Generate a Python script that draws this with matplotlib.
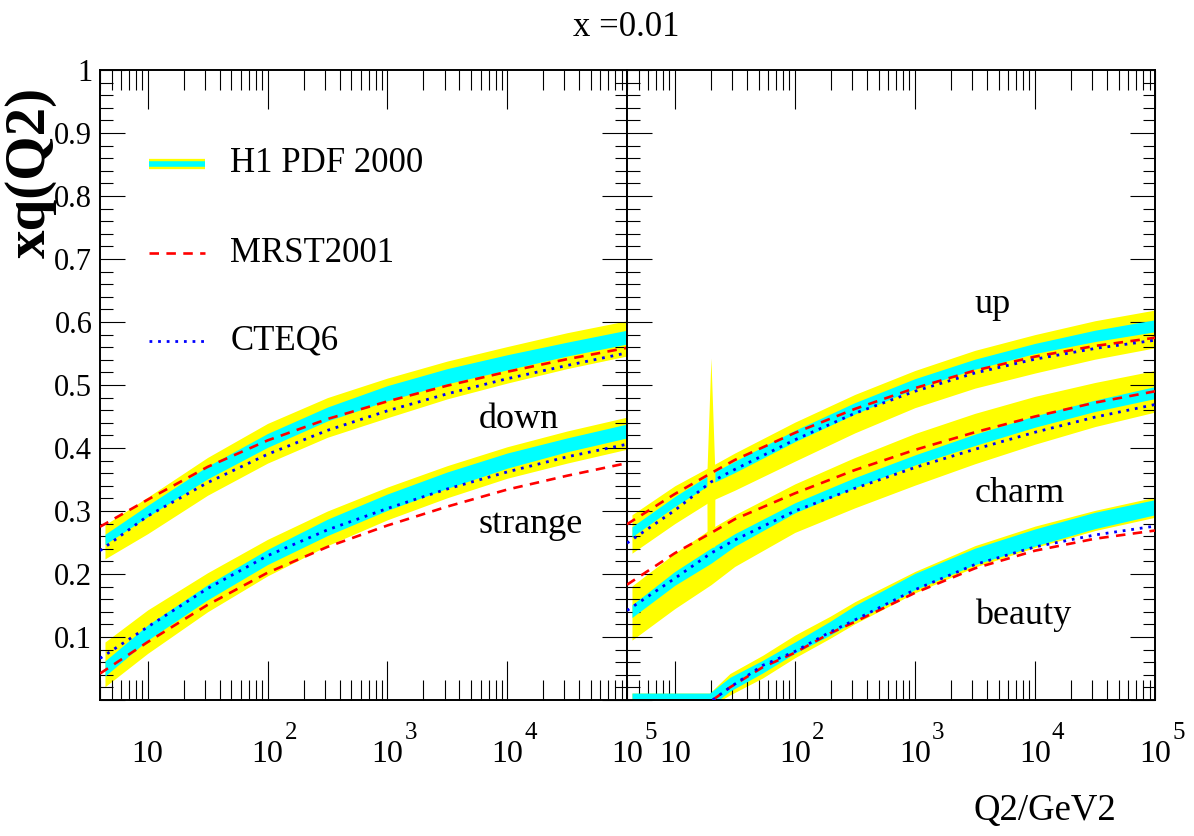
import numpy as np
import matplotlib
matplotlib.use("Agg")
import matplotlib.pyplot as plt
from matplotlib.ticker import (FixedLocator, LogLocator, MultipleLocator,
                               NullFormatter, FuncFormatter)
from matplotlib.transforms import blended_transform_factory, offset_copy

plt.rcParams["font.family"] = ["Liberation Serif", "DejaVu Serif"]

YELLOW = "#ffff00"
CYAN = "#00ffff"
RED = "#ff0000"
BLUE = "#0000ff"

# ---------------- left panel: down / strange ----------------
q2_h1_l = [4.4, 10, 31.6, 100, 316, 1000, 3162, 1e4, 31623, 1e5]
q2_fit_l = [4, 10, 31.6, 100, 316, 1000, 3162, 1e4, 31623, 1e5]

down_h1 = [0.255, 0.300, 0.361, 0.412, 0.454, 0.487, 0.514, 0.536, 0.557, 0.576]
down_exp = [0.008, 0.009, 0.010, 0.011, 0.011, 0.012, 0.012, 0.012, 0.011, 0.011]
down_tot_up = [0.023, 0.022, 0.024, 0.027, 0.026, 0.024, 0.024, 0.025, 0.026, 0.026]
down_tot_dn = [0.031, 0.036, 0.036, 0.036, 0.037, 0.039, 0.036, 0.033, 0.031, 0.030]
down_mrst = [0.275, 0.318, 0.370, 0.412, 0.446, 0.474, 0.499, 0.521, 0.541, 0.559]
down_cteq = [0.237, 0.292, 0.345, 0.390, 0.428, 0.459, 0.486, 0.510, 0.531, 0.551]

strange_h1 = [0.050, 0.107, 0.171, 0.227, 0.274, 0.314, 0.349, 0.380, 0.405, 0.427]
strange_exp = [0.012, 0.012, 0.012, 0.012, 0.013, 0.013, 0.013, 0.012, 0.011, 0.011]
strange_tot_up = [0.042, 0.036, 0.031, 0.028, 0.026, 0.024, 0.023, 0.022, 0.022, 0.022]
strange_tot_dn = [0.029, 0.033, 0.031, 0.030, 0.029, 0.028, 0.028, 0.028, 0.029, 0.029]
strange_mrst = [0.042, 0.092, 0.151, 0.202, 0.243, 0.277, 0.307, 0.334, 0.356, 0.376]
strange_cteq = [0.066, 0.116, 0.177, 0.229, 0.270, 0.304, 0.335, 0.362, 0.386, 0.406]

# ---------------- right panel: up / charm / beauty ----------------
q2_h1_r = [4.4, 10, 20, 31.6, 100, 316, 1000, 3162, 1e4, 31623, 1e5]
q2_fit_r = [4, 10, 20, 31.6, 100, 316, 1000, 3162, 1e4, 31623, 1e5]

up_h1 = [0.267, 0.315, 0.351, 0.370, 0.419, 0.463, 0.502, 0.533, 0.558, 0.578, 0.594]
up_exp = [0.008, 0.008, 0.008, 0.009, 0.009, 0.009, 0.008, 0.008, 0.008, 0.009, 0.0095]
up_tot_up = [0.027, 0.025, 0.020, 0.022, 0.022, 0.022, 0.021, 0.022, 0.022, 0.024, 0.025]
up_tot_dn = [0.034, 0.035, 0.035, 0.037, 0.040, 0.039, 0.038, 0.038, 0.039, 0.037, 0.035]
up_mrst = [0.279, 0.327, 0.360, 0.381, 0.424, 0.462, 0.495, 0.523, 0.545, 0.562, 0.575]
up_cteq = [0.249, 0.301, 0.346, 0.366, 0.413, 0.455, 0.490, 0.519, 0.541, 0.558, 0.571]

# narrow spike of the up-quark error band near Q2 = 20
spike_q2 = [18.5, 18.6, 20.0, 21.5, 21.6]
spike_hi = [0.360, 0.371, 0.543, 0.371, 0.360]
spike_lo = [0.350, 0.243, 0.243, 0.243, 0.350]

charm_h1 = [0.141, 0.193, 0.229, 0.254, 0.305, 0.345, 0.381, 0.413, 0.442, 0.467, 0.488]
charm_exp = [0.010, 0.011, 0.012, 0.010, 0.008, 0.008, 0.008, 0.009, 0.009, 0.009, 0.0095]
charm_tot_up = [0.040, 0.040, 0.043, 0.040, 0.038, 0.040, 0.042, 0.042, 0.040, 0.037, 0.035]
charm_tot_dn = [0.046, 0.048, 0.046, 0.042, 0.039, 0.040, 0.040, 0.038, 0.036, 0.033, 0.031]
charm_mrst = [0.183, 0.233, 0.265, 0.287, 0.328, 0.365, 0.397, 0.425, 0.450, 0.472, 0.490]
charm_cteq = [0.142, 0.193, 0.233, 0.254, 0.300, 0.336, 0.369, 0.398, 0.425, 0.449, 0.469]

q2_h1_b = [4.4, 10, 19.5, 28.8, 54, 100, 197, 316, 1000, 3162, 1e4, 31623, 1e5]
beauty_h1 = [0.0, 0.0, 0.0, 0.025, 0.053, 0.083, 0.114, 0.138, 0.188, 0.228, 0.258, 0.285, 0.306]
beauty_exp = [0.011, 0.011, 0.011, 0.011, 0.010, 0.009, 0.011, 0.012, 0.013, 0.013, 0.0135, 0.013, 0.012]
beauty_tot_up = [0.011, 0.011, 0.011, 0.017, 0.018, 0.020, 0.019, 0.018, 0.016, 0.017, 0.018, 0.016, 0.016]
beauty_tot_dn = [0.011, 0.011, 0.011, 0.017, 0.018, 0.016, 0.016, 0.017, 0.018, 0.017, 0.016, 0.016, 0.016]
q2_fit_b = [20.7, 28.8, 54, 100, 197, 316, 1000, 3162, 1e4, 31623, 1e5]
beauty_mrst = [0.0, 0.020, 0.052, 0.075, 0.106, 0.124, 0.170, 0.209, 0.237, 0.256, 0.269]
beauty_cteq = [0.0, 0.020, 0.055, 0.077, 0.108, 0.127, 0.175, 0.215, 0.243, 0.262, 0.276]

decades = [10, 100, 1e3, 1e4, 1e5]
decade_exp = ["", "2", "3", "4", "5"]
legend_labels = ["H1 PDF 2000", "MRST2001", "CTEQ6"]

MRST_STYLE = dict(color=RED, lw=1.9, ls=(0, (3.6, 2.8)), zorder=4)
CTEQ_STYLE = dict(color=BLUE, lw=2.0, ls=(0, (1.0, 2.1)), zorder=5)


def h1_band(ax, q2, cen, exp, tot_up, tot_dn):
    cen = np.asarray(cen)
    ax.fill_between(q2, cen - np.asarray(tot_dn), cen + np.asarray(tot_up),
                    color=YELLOW, lw=0, zorder=1)
    ax.fill_between(q2, cen - np.asarray(exp), cen + np.asarray(exp),
                    color=CYAN, lw=0, zorder=2)


def style_axes(ax, labels):
    ax.set_xscale("log")
    ax.set_xlim(4, 1e5)
    ax.set_ylim(0, 1)
    ax.xaxis.set_major_locator(FixedLocator(decades))
    ax.xaxis.set_minor_locator(LogLocator(base=10, subs=np.arange(2, 10), numticks=20))
    ax.xaxis.set_major_formatter(NullFormatter())
    ax.xaxis.set_minor_formatter(NullFormatter())
    ax.yaxis.set_major_locator(MultipleLocator(0.1))
    ax.yaxis.set_minor_locator(MultipleLocator(0.02))
    ax.tick_params(which="both", direction="in", top=True, right=True,
                   width=0.8, color="black")
    ax.tick_params(axis="x", which="major", length=28)
    ax.tick_params(axis="x", which="minor", length=14.5)
    ax.tick_params(axis="y", which="major", length=18)
    ax.tick_params(axis="y", which="minor", length=9)
    for s in ax.spines.values():
        s.set_linewidth(1.4)
    if labels:
        ax.yaxis.set_major_formatter(FuncFormatter(
            lambda v, p: "" if abs(v) < 1e-9 else ("1" if abs(v - 1) < 1e-9 else f"{v:.1f}")))
        ax.tick_params(axis="y", labelsize=22, pad=5.5)
    else:
        ax.tick_params(axis="y", labelleft=False)

    # ROOT-like decade labels: "10" centred on the tick, exponent hanging right
    tr = blended_transform_factory(ax.transData, ax.transAxes)
    tr_exp = offset_copy(tr, fig=ax.figure, x=17, y=0, units="dots")
    for q, e in zip(decades, decade_exp):
        ax.text(q, -0.098, "10", transform=tr, ha="center", va="baseline",
                fontsize=23, clip_on=False)
        if e:
            ax.text(q, -0.062, e, transform=tr_exp, ha="left", va="baseline",
                    fontsize=18, clip_on=False)


fig = plt.figure(figsize=(11.94, 8.36), dpi=100)
ax_l = fig.add_axes([100 / 1194, 136 / 836, 527 / 1194, 630 / 836])
ax_r = fig.add_axes([627 / 1194, 136 / 836, 528 / 1194, 630 / 836])

# left panel
h1_band(ax_l, q2_h1_l, down_h1, down_exp, down_tot_up, down_tot_dn)
h1_band(ax_l, q2_h1_l, strange_h1, strange_exp, strange_tot_up, strange_tot_dn)
for mrst, cteq in [(down_mrst, down_cteq), (strange_mrst, strange_cteq)]:
    ax_l.plot(q2_fit_l, mrst, **MRST_STYLE)
    ax_l.plot(q2_fit_l, cteq, **CTEQ_STYLE)
style_axes(ax_l, True)

# right panel
h1_band(ax_r, q2_h1_r, charm_h1, charm_exp, charm_tot_up, charm_tot_dn)
h1_band(ax_r, q2_h1_b, beauty_h1, beauty_exp, beauty_tot_up, beauty_tot_dn)
h1_band(ax_r, q2_h1_r, up_h1, up_exp, up_tot_up, up_tot_dn)
ax_r.fill_between(spike_q2, spike_lo, spike_hi, color=YELLOW, lw=0, zorder=3)
for mrst, cteq in [(up_mrst, up_cteq), (charm_mrst, charm_cteq)]:
    ax_r.plot(q2_fit_r, mrst, **MRST_STYLE)
    ax_r.plot(q2_fit_r, cteq, **CTEQ_STYLE)
ax_r.plot(q2_fit_b, beauty_mrst, **MRST_STYLE)
ax_r.plot(q2_fit_b, beauty_cteq, **CTEQ_STYLE)
style_axes(ax_r, False)

# flavour labels
for ax, txt, x, y in [(ax_l, "down", 0.719, 0.432), (ax_l, "strange", 0.719, 0.265),
                      (ax_r, "up", 0.659, 0.614), (ax_r, "charm", 0.659, 0.315),
                      (ax_r, "beauty", 0.659, 0.121)]:
    ax.text(x, y, txt, transform=ax.transAxes, fontsize=26, ha="left", va="baseline")

# legend drawn by hand in the left panel
lx0, lx1, tx = 0.093, 0.199, 0.247
ly = [0.851, 0.7095, 0.570]
ax_l.plot([lx0, lx1], [ly[0], ly[0]], transform=ax_l.transAxes, color=YELLOW,
          lw=7.4, solid_capstyle="butt", zorder=6)
ax_l.plot([lx0, lx1], [ly[0], ly[0]], transform=ax_l.transAxes, color=CYAN,
          lw=4.0, solid_capstyle="butt", zorder=7)
ax_l.plot([lx0, lx1], [ly[1], ly[1]], transform=ax_l.transAxes, **MRST_STYLE)
ax_l.plot([lx0, lx1], [ly[2], ly[2]], transform=ax_l.transAxes, **CTEQ_STYLE)
for lab, y in zip(legend_labels, ly):
    ax_l.text(tx, y, lab, transform=ax_l.transAxes, fontsize=25, ha="left", va="center")

fig.text(626 / 1194, 1 - 27 / 836, "x =0.01", fontsize=25, ha="center", va="center")
fig.text(1116 / 1194, 1 - 820 / 836, "Q2/GeV2", fontsize=26.5, ha="right", va="baseline")
fig.text(31 / 1194, 1 - 172 / 836, "xq(Q2)", fontsize=41, fontweight="bold",
         rotation=90, ha="center", va="center")

fig.savefig("out.png", dpi=100)
